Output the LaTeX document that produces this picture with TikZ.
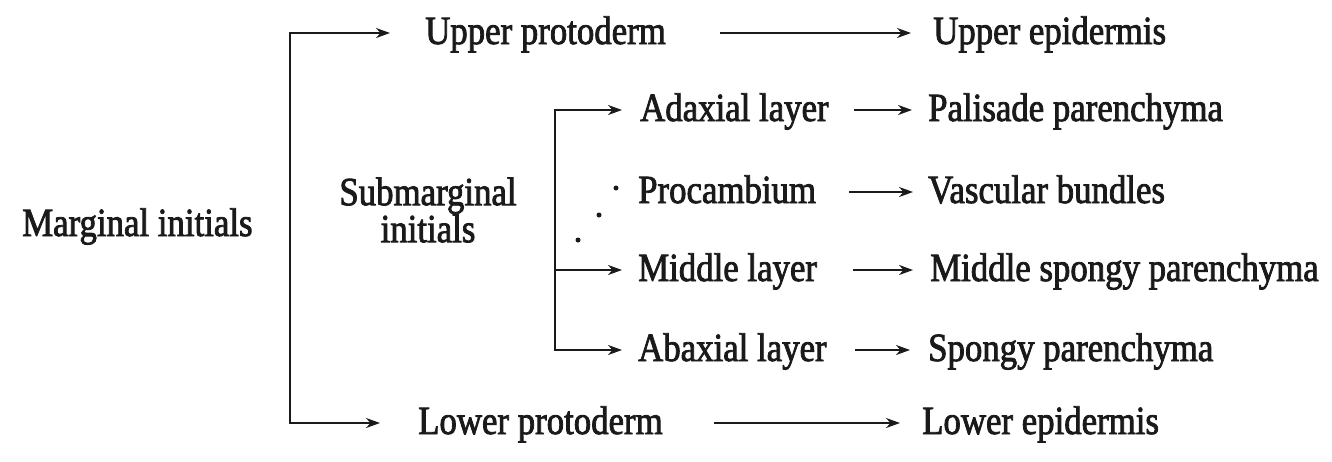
\documentclass[tikz,border=0pt]{standalone}
\usepackage{fontspec}
\setmainfont[FakeStretch=0.87,FakeBold=2]{Liberation Serif}
\usetikzlibrary{arrows.meta}
\definecolor{ink}{HTML}{1A1A1A}
\begin{document}
\begin{tikzpicture}[x=1pt,y=-1pt,
  lbl/.style={inner sep=0pt,anchor=base west,text=ink,
    font={\fontsize{40}{33}\selectfont\lineskiplimit=-50pt}},
  arr/.style={draw=ink,line width=2.6pt,-{Stealth[length=14pt,width=10pt]}},
  brk/.style={draw=ink,line width=2.6pt},
  dot/.style={fill=ink,draw=none,circle,inner sep=0pt,minimum size=5pt},
  lvl/.style={yshift=11pt}]
\useasboundingbox (0,0) rectangle (1332,461);

% left-hand origin
\node[lbl] (mi) at (22,236) {Marginal initials};
\node[lbl,anchor=center,align=center,
  font={\fontsize{40}{37}\selectfont\lineskiplimit=-50pt}] (smi) at (428,210) {Submarginal\\initials};

% first-generation tissues (coordinates are baselines)
\node[lbl] (up)  at (425,44)  {Upper protoderm};
\node[lbl] (lp)  at (418,434) {Lower protoderm};
\node[lbl] (ad)  at (640,121) {Adaxial layer};
\node[lbl] (pc)  at (638,203) {Procambium};
\node[lbl] (ml)  at (638,281) {Middle layer};
\node[lbl] (ab)  at (638,361) {Abaxial layer};

% mature tissues
\node[lbl] (ue)  at (933,44)  {Upper epidermis};
\node[lbl] (pp)  at (928,121) {Palisade parenchyma};
\node[lbl] (vb)  at (928,203) {Vascular bundles};
\node[lbl] (msp) at (930,281) {Middle spongy parenchyma};
\node[lbl] (sp)  at (928,361) {Spongy parenchyma};
\node[lbl] (le)  at (922,434) {Lower epidermis};

% main bracket
\coordinate (mtop) at (290,33);
\coordinate (mbot) at (290,423);
\draw[brk] ([yshift=1.3pt]mtop) -- ([yshift=-1.3pt]mbot);
\draw[arr,shorten >=35pt] (mtop) -- ([lvl]up.base west);
\draw[arr,shorten >=38pt] (mbot) -- ([lvl]lp.base west);

% submarginal bracket
\coordinate (stop) at (555,110);
\coordinate (smid) at (555,270);
\coordinate (sbot) at (555,350);
\draw[brk] ([yshift=1.3pt]stop) -- ([yshift=-1.3pt]sbot);
\draw[arr,shorten >=18pt] (stop) -- ([lvl]ad.base west);
\draw[arr,shorten >=16pt] (smid) -- ([lvl]ml.base west);
\draw[arr,shorten >=16pt] (sbot) -- ([lvl]ab.base west);

% dotted trace towards the procambium
\node[dot] (d1) at (616,188) {};
\node[dot] (d2) at (599,215) {};
\node[dot] (d3) at (578,240) {};

% second arrows
\draw[arr,shorten <=54pt,shorten >=22pt] ([lvl]up.base east) -- ([lvl]ue.base west);
\draw[arr,shorten <=25pt,shorten >=16pt] ([lvl]ad.base east) -- ([lvl]pp.base west);
\draw[arr,shorten <=33pt,shorten >=15pt] ([lvl]pc.base east) -- ([lvl]vb.base west);
\draw[arr,shorten <=36pt,shorten >=17pt] ([lvl]ml.base east) -- ([lvl]msp.base west);
\draw[arr,shorten <=28pt,shorten >=18pt] ([lvl]ab.base east) -- ([lvl]sp.base west);
\draw[arr,shorten <=51pt,shorten >=22pt] ([lvl]lp.base east) -- ([lvl]le.base west);
\end{tikzpicture}
\end{document}
